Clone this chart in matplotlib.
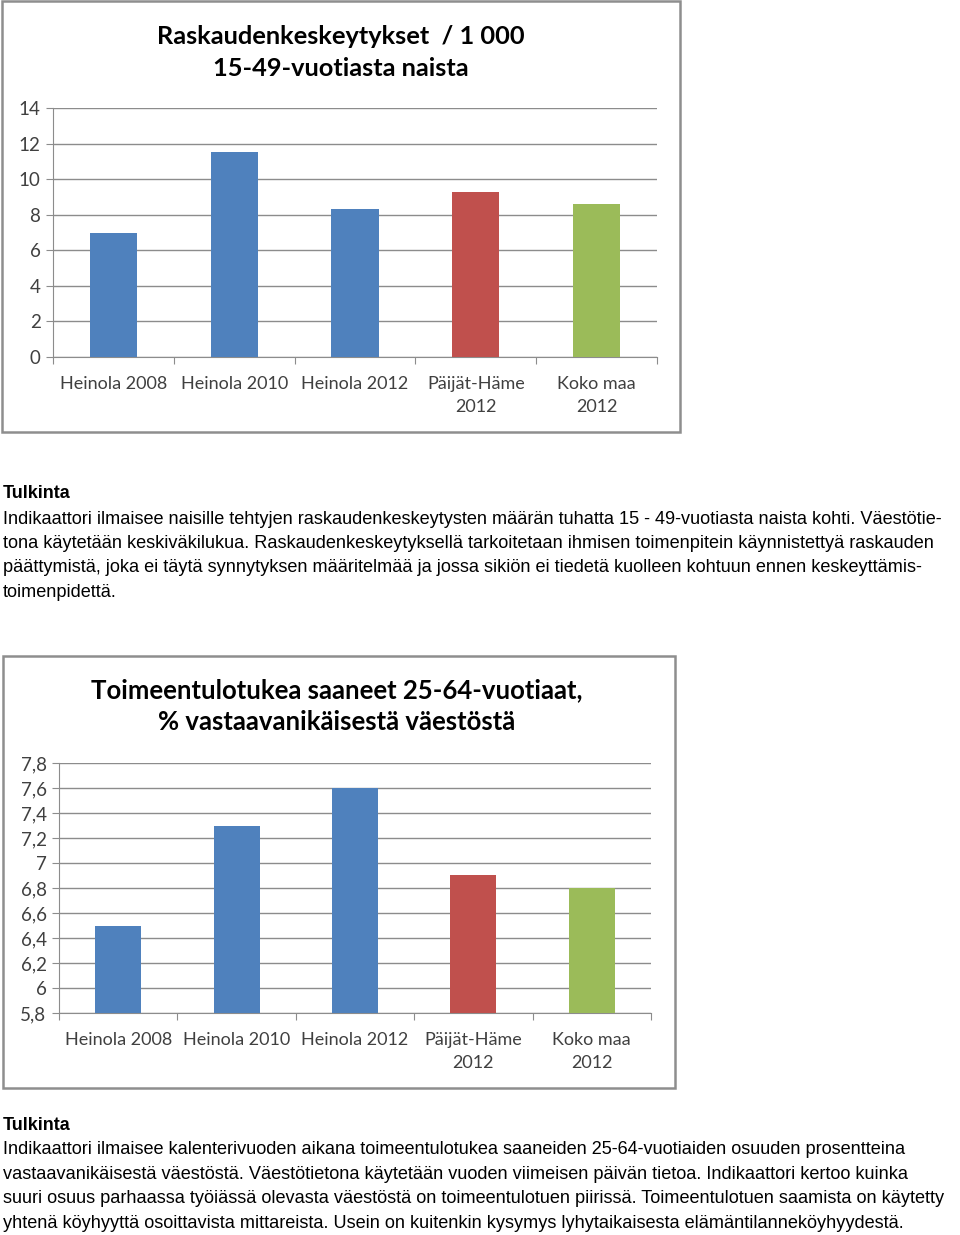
import matplotlib
matplotlib.use("Agg")
import matplotlib.pyplot as plt
from matplotlib.patches import Rectangle

W, H = 960, 1235

categories = ["Heinola 2008", "Heinola 2010", "Heinola 2012", "Päijät-Häme\n2012", "Koko maa\n2012"]
abortions = [7.0, 11.5, 8.3, 9.3, 8.6]
welfare = [6.5, 7.3, 7.6, 6.9, 6.8]
ticks1 = [0, 2, 4, 6, 8, 10, 12, 14]
ticks2 = [5.8, 6.0, 6.2, 6.4, 6.6, 6.8, 7.0, 7.2, 7.4, 7.6, 7.8]
tick2_labels = ["5,8", "6", "6,2", "6,4", "6,6", "6,8", "7", "7,2", "7,4", "7,6", "7,8"]
bar_colors = ["#4F81BD", "#4F81BD", "#4F81BD", "#C0504D", "#9BBB59"]

title1 = ["Raskaudenkeskeytykset  / 1 000", "15-49-vuotiasta naista"]
title2 = ["Toimeentulotukea saaneet 25-64-vuotiaat,", "% vastaavanikäisestä väestöstä"]

text1 = [
    "Indikaattori ilmaisee naisille tehtyjen raskaudenkeskeytysten määrän tuhatta 15 - 49-vuotiasta naista kohti. Väestötie-",
    "tona käytetään keskiväkilukua. Raskaudenkeskeytyksellä tarkoitetaan ihmisen toimenpitein käynnistettyä raskauden",
    "päättymistä, joka ei täytä synnytyksen määritelmää ja jossa sikiön ei tiedetä kuolleen kohtuun ennen keskeyttämis-",
    "toimenpidettä.",
]
text2 = [
    "Indikaattori ilmaisee kalenterivuoden aikana toimeentulotukea saaneiden 25-64-vuotiaiden osuuden prosentteina",
    "vastaavanikäisestä väestöstä. Väestötietona käytetään vuoden viimeisen päivän tietoa. Indikaattori kertoo kuinka",
    "suuri osuus parhaassa työiässä olevasta väestöstä on toimeentulotuen piirissä. Toimeentulotuen saamista on käytetty",
    "yhtenä köyhyyttä osoittavista mittareista. Usein on kuitenkin kysymys lyhytaikaisesta elämäntilanneköyhyydestä.",
]

fig = plt.figure(figsize=(W / 100, H / 100), dpi=100)
fig.patch.set_facecolor("white")

CHART_FONT = ["Lato", "DejaVu Sans"]
BODY_FONT = ["Liberation Sans", "DejaVu Sans"]
GRID = "#8C8C8C"
TXT = "#404040"


def fx(x):
    return x / W


def fy(y):
    return 1 - y / H


def box(x0, y0, x1, y1):
    fig.patches.append(Rectangle((fx(x0), fy(y1)), fx(x1 - x0), (y1 - y0) / H,
                                 transform=fig.transFigure, fill=False,
                                 edgecolor="#8E8E8E", linewidth=1.8))


def chart(px0, py0, px1, py1, values, ticks, ticklabels, ymin, ymax, titles, tx, ty, tsize):
    ax = fig.add_axes([fx(px0), fy(py1), fx(px1 - px0), (py1 - py0) / H])
    x = range(len(values))
    ax.bar(x, [v - ymin for v in values], bottom=ymin, width=0.39, color=bar_colors, zorder=3)
    ax.set_xlim(-0.5, len(values) - 0.5)
    ax.set_ylim(ymin, ymax)
    ax.set_yticks(ticks)
    ax.set_yticklabels(ticklabels, fontfamily=CHART_FONT, fontsize=13.5, color=TXT)
    ax.yaxis.grid(True, color=GRID, linewidth=1.0, zorder=0)
    for s in ["top", "right"]:
        ax.spines[s].set_visible(False)
    ax.spines["left"].set_color(GRID)
    ax.spines["bottom"].set_color(GRID)
    ax.tick_params(axis="y", length=5, color=GRID, pad=4)
    ax.set_xticks([i - 0.5 for i in range(len(values) + 1)])
    ax.set_xticklabels([])
    ax.tick_params(axis="x", length=5, color=GRID, direction="out")
    label_off = 19.0 / (py1 - py0)
    for i, c in enumerate(categories):
        ax.text(i, -label_off, c, transform=ax.get_xaxis_transform(), ha="center", va="top",
                fontfamily=CHART_FONT, fontsize=13, color=TXT, linespacing=1.55)
    for k, t in enumerate(titles):
        fig.text(fx(tx), fy(ty[k]), t, ha="center", va="center",
                 fontfamily=CHART_FONT, fontweight="bold", fontsize=tsize, color="black")
    return ax


# Chart 1
box(2, 1, 680, 432)
chart(53, 108, 657, 357, abortions, ticks1, [str(t) for t in ticks1], 0, 14,
      title1, 341, [36, 68], 18.3)

# Chart 2
box(3, 656, 675, 1088)
chart(59, 763, 651, 1013, welfare, ticks2, tick2_labels, 5.8, 7.8,
      title2, 337, [690, 722], 18.5)


def paragraph(y0, lines):
    fig.text(fx(3), fy(y0), "Tulkinta", ha="left", va="center",
             fontfamily=BODY_FONT, fontweight="bold", fontsize=13, color="black")
    for i, ln in enumerate(lines):
        fig.text(fx(3), fy(y0 + 25 + 24.4 * i), ln, ha="left", va="center",
                 fontfamily=BODY_FONT, fontsize=13.1, color="black")


paragraph(494, text1)
paragraph(1125, text2)

fig.savefig("out.png", dpi=100, facecolor="white")
